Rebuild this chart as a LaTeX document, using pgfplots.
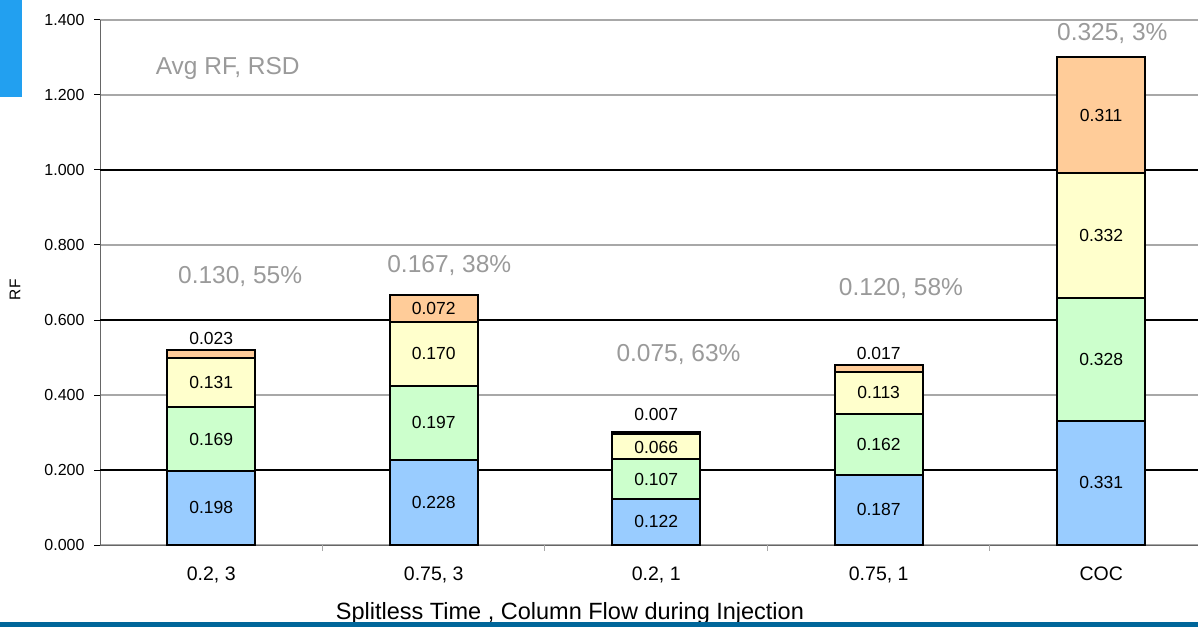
\documentclass[border=0pt]{standalone}
\usepackage{pgfplots}
\pgfplotsset{compat=1.18}
\usepackage{fontspec}
\setmainfont{Liberation Sans}
\definecolor{cblue}{HTML}{99CCFF}
\definecolor{cgreen}{HTML}{CCFFCC}
\definecolor{cyellow}{HTML}{FFFFCC}
\definecolor{corange}{HTML}{FFCC99}
\definecolor{annot}{HTML}{9A9A9A}
\definecolor{gridg}{HTML}{A8A8A8}
\definecolor{sideblue}{HTML}{22A0F0}
\definecolor{bottomblue}{HTML}{00669A}
\pgfplotstableread{
x y label
0 0.099 0.198
0 0.2825 0.169
0 0.4325 0.131
0 0.550 0.023
1 0.114 0.228
1 0.3265 0.197
1 0.510 0.170
1 0.631 0.072
2 0.062 0.122
2 0.1745 0.107
2 0.261 0.066
2 0.347 0.007
3 0.0945 0.187
3 0.268 0.162
3 0.4055 0.113
3 0.512 0.017
4 0.1655 0.331
4 0.495 0.328
4 0.825 0.332
4 1.1465 0.311
}\seglabels
\pgfplotstableread[col sep=semicolon]{
x;y;label
0.074;1.272;Avg RF, RSD
0.13;0.717;0.130, 55\%
1.07;0.744;0.167, 38\%
2.10;0.509;0.075, 63\%
3.10;0.685;0.120, 58\%
4.05;1.365;0.325, 3\%
}\annots
\begin{document}
\begin{tikzpicture}
\useasboundingbox (0pt,0pt) rectangle (1198pt,627pt);
\fill[sideblue] (0pt,530pt) rectangle (22pt,627pt);
\begin{axis}[
  at={(100pt,82pt)}, anchor=south west,
  scale only axis, width=1098pt, height=525pt,
  xmin=-0.5, xmax=4.435, ymin=0, ymax=1.4,
  ybar stacked, bar width=88pt,
  axis x line*=bottom, axis y line*=left,
  axis line style={draw=gray!80!black, line width=1pt},
  xtick={0,1,2,3,4},
  xticklabels={{0.2, 3},{0.75, 3},{0.2, 1},{0.75, 1},COC},
  xtick style={draw=none},
  x tick label style={font=\fontsize{19.5}{20}\selectfont, yshift=-12pt},
  ytick={0,0.4,0.8,1.2,1.4},
  ytick style={draw=black, line width=1pt},
  tick align=outside, major tick length=6pt,
  y tick label style={font=\fontsize{16}{17}\selectfont, xshift=-6pt},
  yticklabel style={/pgf/number format/fixed, /pgf/number format/fixed zerofill, /pgf/number format/precision=3, /pgf/number format/assume math mode=true},
  ymajorgrids, major grid style={draw=gridg, line width=1.2pt},
  extra y ticks={0.2,0.6,1.0},
  extra y tick style={grid=major, major grid style={draw=black, line width=1.2pt}},
  xlabel={Splitless Time , Column Flow during Injection},
  xlabel style={font=\fontsize{23.5}{24}\selectfont, at={(axis description cs:0.428,0)}, anchor=base, yshift=-74pt},
  ylabel={RF},
  ylabel style={font=\fontsize{15.5}{16}\selectfont, at={(axis description cs:0,0.486)}, anchor=center, yshift=85pt},
  clip=false,
]
\addplot[fill=cblue, draw=black, line width=2pt] coordinates {(0,0.198) (1,0.228) (2,0.122) (3,0.187) (4,0.331)};
\addplot[fill=cgreen, draw=black, line width=2pt] coordinates {(0,0.169) (1,0.197) (2,0.107) (3,0.162) (4,0.328)};
\addplot[fill=cyellow, draw=black, line width=2pt] coordinates {(0,0.131) (1,0.170) (2,0.066) (3,0.113) (4,0.332)};
\addplot[fill=corange, draw=black, line width=2pt] coordinates {(0,0.023) (1,0.072) (2,0.007) (3,0.017) (4,0.311)};
\end{axis}
\begin{axis}[
  at={(100pt,82pt)}, anchor=south west,
  scale only axis, width=1098pt, height=525pt,
  xmin=-0.5, xmax=4.435, ymin=0, ymax=1.4,
  axis x line*=bottom, axis y line=none,
  x axis line style={draw=none},
  xtick={0.5,1.5,2.5,3.5}, xticklabels={},
  xtick style={draw=gridg, line width=1pt},
  tick align=outside, major tick length=6pt,
  clip=false,
]
\addplot[only marks, mark=none, nodes near coords, point meta=explicit symbolic,
  nodes near coords align=center,
  every node near coord/.append style={font=\fontsize{17.5}{18}\selectfont, text=black, anchor=center}]
  table[x=x, y=y, meta=label] {\seglabels};
\addplot[only marks, mark=none, nodes near coords, point meta=explicit symbolic,
  nodes near coords align=center,
  every node near coord/.append style={font=\fontsize{24.5}{25}\selectfont, text=annot, anchor=center}]
  table[x=x, y=y, meta=label] {\annots};
\end{axis}
\fill[bottomblue] (0pt,0pt) rectangle (1198pt,5.5pt);
\end{tikzpicture}
\end{document}
